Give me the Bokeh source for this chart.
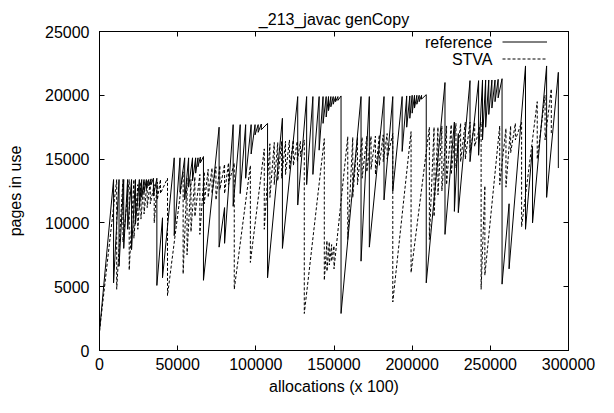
from bokeh.plotting import figure
from bokeh.models import (FixedTicker, BasicTickFormatter, LinearAxis, Range1d,
                          Legend, LegendItem, Label)
from bokeh.embed import file_html
from bokeh.resources import INLINE

# ---------------- data ----------------
start_x = 0
start_y = 1500

# reference: collection points (x), pages just before (peak), just after (trough)
ref_gc = [9000, 12500, 15500, 18000, 20500, 23000, 25500, 27000, 28500, 30000, 31500, 33000, 34500, 36700,
          40300, 47800, 51500, 54500, 57000, 59500, 61500, 63000, 64500, 66500, 76500, 80000,
          85500, 90000, 93500, 97000, 99500, 101500, 103500, 107500, 117000, 126800,
          132500, 136500, 140500, 143000, 145000, 146500, 148000, 149500, 151000, 152500, 154500,
          167300, 172600, 182000, 187600, 193600, 196500, 198500, 200000, 201500, 203000, 204500, 206000, 209000,
          221000, 227000, 229500, 237000, 242500, 245000, 247000, 249000, 251000, 253000, 255000, 257500,
          262000, 272500, 277000, 286000, 293500]
ref_peak = [13400, 13400, 13400, 13400, 13400, 13400, 13400, 13400, 13400, 13400, 13400, 13450, 13500, 13500,
            10400, 15100, 15100, 15100, 15100, 15100, 15100, 15100, 15150, 15200, 17500, 11200,
            17700, 17700, 17700, 17700, 17700, 17700, 17750, 17800, 18200, 19900,
            19900, 19900, 19900, 19900, 19900, 19900, 19900, 19900, 19900, 19900, 19950,
            19900, 19900, 19900, 19900, 19900, 19950, 19950, 20000, 20000, 20000, 20000, 20000, 20050,
            21000, 17900, 17000, 21150, 21150, 21200, 21200, 21200, 21200, 21200, 21250, 21300,
            11500, 22300, 16000, 22300, 21800]
ref_trough = [5300, 6600, 8000, 9500, 7900, 9900, 11200, 12000, 12400, 12700, 12900, 13000, 12100, 5100,
              5700, 9000, 12400, 11800, 12800, 13300, 13900, 14400, 14700, 5500, 8100, 8400,
              11300, 12300, 13500, 15400, 16900, 17100, 17300, 5700, 8000, 11400,
              13000, 13800, 15700, 17800, 18300, 18800, 19100, 19300, 19500, 19600, 2900,
              7000, 8100, 11800, 12500, 15600, 17500, 18200, 18600, 19000, 19300, 19500, 19700, 5300,
              9100, 10900, 10800, 14800, 15300, 16500, 17500, 18500, 19000, 19500, 19800, 5200,
              6400, 9500, 10000, 12000, 14300]

# STVA
stva_gc = [11000, 15000, 19000, 22000, 24500, 26500, 28500, 30500, 32500, 35000, 37000, 39000, 43500,
           53500, 56000, 58500, 61000, 64200, 67000, 69500, 72000, 74500, 77000, 80000, 82500, 86200,
           96500, 105400, 109000, 111800, 114000, 116500, 119000, 121500, 124000, 126500, 128500, 131000,
           143800, 145500, 147000, 148500, 150000, 158800, 162000, 165000, 168000, 171000, 173700, 176500,
           179000, 181500, 184000, 187600, 199300, 211000, 214000, 216500, 219000, 222000, 225000, 228000,
           231000, 234000, 237000, 240000, 244100, 246500, 256000, 260000, 263000, 266000, 270000,
           280000, 285000, 289000]
stva_peak = [13400, 13400, 13400, 13400, 13000, 13200, 13300, 13300, 13300, 13000, 13200, 13400, 13500,
             14000, 13500, 13400, 13600, 13800, 14000, 14200, 14300, 14400, 14500, 14600, 14700, 14700,
             14500, 15800, 16200, 16300, 16300, 16400, 16400, 16500, 16500, 16400, 16400, 16500,
             16600, 8600, 8500, 8300, 8200, 16760, 16700, 16700, 16700, 16800, 16800, 16800,
             16900, 16900, 17000, 17000, 17150, 17500, 17500, 17500, 17600, 17600, 17700, 17800,
             17800, 17900, 17900, 17900, 17900, 12900, 17600, 17400, 17600, 17800, 17900,
             19500, 20000, 20500]
stva_trough = [4800, 8500, 6300, 8800, 9500, 10300, 10700, 11200, 11500, 10000, 11800, 12300, 4300,
               6000, 7500, 9300, 10500, 9100, 11500, 12000, 12300, 11800, 12600, 12300, 13000, 4800,
               6900, 9500, 12000, 13000, 13300, 13500, 13800, 14200, 14500, 14800, 15200, 2900,
               5500, 6200, 6700, 7000, 6400, 8700, 12000, 13000, 13500, 14000, 14200, 13800,
               14500, 14800, 15000, 3800, 6100, 8700, 10500, 12200, 12500, 13000, 13800, 14300,
               14800, 15000, 15500, 16000, 4800, 5900, 13000, 12800, 15500, 16500, 9700,
               15000, 16500, 17000]

x_ticks = [0, 50000, 100000, 150000, 200000, 250000, 300000]
y_ticks = [0, 5000, 10000, 15000, 20000, 25000]

title_text = "_213_javac genCopy"
x_label = "allocations (x 100)"
y_label = "pages in use"
series_names = ["reference", "STVA"]


def sawtooth(gc, peak, trough):
    xs = [start_x]
    ys = [start_y]
    for g, pk, tr in zip(gc, peak, trough):
        xs += [g, g]
        ys += [pk, tr]
    return xs, ys


FONT = "Liberation Sans"
FS = "16px"

p = figure(width=598, height=397, output_backend="svg", toolbar_location=None,
           x_range=Range1d(0, 300000), y_range=Range1d(0, 25000),
           min_border_left=99, min_border_right=30, min_border_top=31, min_border_bottom=44)
p.title.text = title_text
p.title.align = "center"
p.title.text_font = FONT
p.title.text_font_size = FS
p.title.text_font_style = "normal"
p.title.text_color = "black"
p.title.standoff = 8

p.xgrid.visible = False
p.ygrid.visible = False
p.outline_line_color = "black"
p.outline_line_width = 1
p.background_fill_color = "white"
p.border_fill_color = "white"

for ax, ticks in ((p.xaxis[0], x_ticks), (p.yaxis[0], y_ticks)):
    ax.ticker = FixedTicker(ticks=ticks)
    ax.formatter = BasicTickFormatter(use_scientific=False)
    ax.major_tick_in = 5
    ax.major_tick_out = 0
    ax.major_tick_line_color = "black"
    ax.minor_tick_line_color = None
    ax.major_label_text_font = FONT
    ax.major_label_text_font_size = FS
    ax.major_label_text_color = "black"
    ax.axis_label_text_font = FONT
    ax.axis_label_text_font_size = FS
    ax.axis_label_text_font_style = "normal"
    ax.axis_label_text_color = "black"
    ax.axis_line_color = "black"

p.xaxis.axis_label = x_label
p.yaxis.axis_label = y_label
p.xaxis.major_label_standoff = 7
p.xaxis.axis_label_standoff = 5
p.yaxis.major_label_standoff = 10
p.yaxis.axis_label_standoff = 18

# mirrored ticks on top and right (no labels drawn)
top = LinearAxis(ticker=FixedTicker(ticks=x_ticks), major_label_text_font_size="1px",
                 major_label_text_color=None, major_tick_line_color="black",
                 major_tick_in=5, major_tick_out=0, minor_tick_line_color=None,
                 major_label_standoff=0, axis_line_color="black")
right = LinearAxis(ticker=FixedTicker(ticks=y_ticks), major_label_text_font_size="1px",
                   major_label_text_color=None, major_tick_line_color="black",
                   major_tick_in=5, major_tick_out=0, minor_tick_line_color=None,
                   major_label_standoff=0, axis_line_color="black")
p.add_layout(top, "above")
p.add_layout(right, "right")

rx, ry = sawtooth(ref_gc, ref_peak, ref_trough)
sx, sy = sawtooth(stva_gc, stva_peak, stva_trough)
r_ref = p.line(rx, ry, line_color="black", line_width=1)
r_stva = p.line(sx, sy, line_color="black", line_width=1, line_dash="3 2")

# key: text on the left, sample line on the right (gnuplot style)
legend = Legend(items=[LegendItem(label=" ", renderers=[r_ref]),
                       LegendItem(label=" ", renderers=[r_stva])],
                location=(403, 283), padding=0, margin=0, spacing=0,
                glyph_width=45, glyph_height=17, label_height=17, label_width=0,
                label_standoff=0, label_text_font_size="1px", label_text_color=None,
                border_line_alpha=0, background_fill_alpha=0)
p.add_layout(legend, "center")
for i, name in enumerate(series_names):
    p.add_layout(Label(x=393, y=308.5 - 17 * i, x_units="screen", y_units="screen",
                       text=name, text_align="right", text_baseline="middle",
                       text_font=FONT, text_font_size=FS, text_color="black"))

open("out.html", "w").write(file_html(p, INLINE))
